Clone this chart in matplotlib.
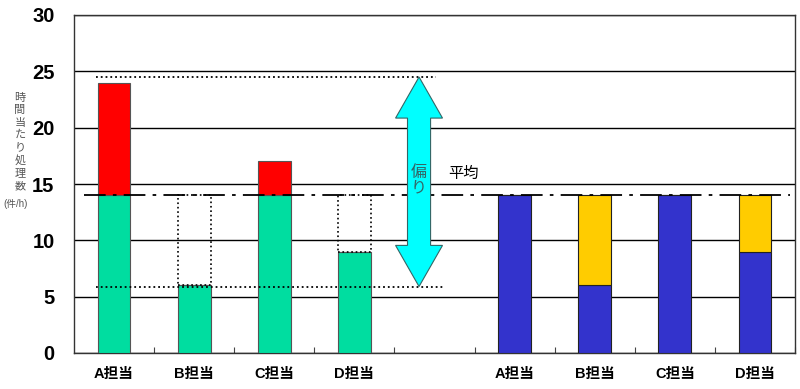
import numpy as np
import matplotlib.pyplot as plt
from matplotlib.patches import Polygon

plt.rcParams['font.family'] = ['Liberation Sans', 'Noto Sans CJK JP', 'DejaVu Sans']

# データ
labels = ['A担当', 'B担当', 'C担当', 'D担当', '', 'A担当', 'B担当', 'C担当', 'D担当']
before_base = [14, 6, 14, 9]      # 平均以下の部分（緑）
before_over = [10, 0, 3, 0]       # 平均を超える部分（赤）
after_base = [14, 6, 14, 9]       # 青
after_add = [0, 8, 0, 5]          # 黄
average = 14
spread_max = 24.5
spread_min = 5.9

green = '#00DDA0'
red = '#FF0000'
blue = '#3333CC'
yellow = '#FFCC00'
cyan = '#00FFFF'

fig = plt.figure(figsize=(8, 3.89), dpi=100)
ax = fig.add_axes([74/800, 1-353/389, 721/800, 338/389])

x = np.arange(len(labels))
xb = x[:4]
xa = x[5:]
w = 0.41

# 偏りあり
ax.bar(xb, before_base, width=w, color=green, edgecolor='#555555', linewidth=0.8, zorder=3)
ax.bar(xb, before_over, width=w, bottom=before_base, color=red, edgecolor='#555555', linewidth=0.8, zorder=3)
gap = [average - b for b in before_base]
for xi, b, g in zip(xb, before_base, gap):
    if g > 0:
        ax.bar(xi, g, width=w, bottom=b, fill=False, edgecolor='black', linestyle=':', linewidth=1.2, zorder=3)

# 平準化後
ax.bar(xa, after_base, width=w, color=blue, edgecolor='#222222', linewidth=0.8, zorder=3)
ax.bar(xa, after_add, width=w, bottom=after_base, color=yellow, edgecolor='#222222', linewidth=0.8, zorder=3)

# 平均線
ax.plot([-0.375, 8.44], [average, average], color='black', linewidth=1.3,
        dashes=(12, 4, 2, 4), zorder=4)
# 最大・最小の点線
ax.plot([-0.225, 4.02], [spread_max, spread_max], color='black', linestyle=':', linewidth=1.3, zorder=4)
ax.plot([-0.225, 4.1], [spread_min, spread_min], color='black', linestyle=':', linewidth=1.3, zorder=4)

# 両矢印
cx = 3.807
sw = 0.144
hw = 0.293
hl = 3.65
pts = [(cx, spread_max), (cx + hw, spread_max - hl), (cx + sw, spread_max - hl),
       (cx + sw, spread_min + hl), (cx + hw, spread_min + hl), (cx, spread_min),
       (cx - hw, spread_min + hl), (cx - sw, spread_min + hl), (cx - sw, spread_max - hl),
       (cx - hw, spread_max - hl)]
ax.add_patch(Polygon(pts, closed=True, facecolor=cyan, edgecolor='#336666', linewidth=0.8, zorder=5))
ax.text(cx, 15.3, '偏\nり', ha='center', va='center', fontsize=11.5, color='#336666',
        linespacing=1.05, zorder=6)
ax.text(4.36, 15.9, '平均', ha='center', va='center', fontsize=11, color='black')

ax.set_xlim(-0.5, 8.5)
ax.set_ylim(0, 30)
ax.set_yticks(range(0, 31, 5))
ax.yaxis.grid(True, color='black', linewidth=1.0)
ax.set_axisbelow(True)
ax.tick_params(axis='y', length=0, pad=14, labelsize=14.5)
for t in ax.get_yticklabels():
    t.set_fontweight('bold')

ax.set_xticks(x + 0.5)
ax.set_xticklabels([])
ax.tick_params(axis='x', which='major', direction='in', length=4, color='#444444')
ax.set_xticks(x, minor=True)
ax.set_xticklabels(labels, minor=True, fontsize=10.5, fontweight='bold')
ax.tick_params(axis='x', which='minor', length=0, pad=10)

for s in ax.spines.values():
    s.set_color('#333333')
    s.set_linewidth(1.0)

# 縦書きの軸ラベル
fig.text(20/800, 1-142/389, '\n'.join('時間当たり処理数'), ha='center', va='center',
         fontsize=8, color='#555555', linespacing=1.3)
fig.text(16/800, 1-204/389, '(件/h)', ha='center', va='center',
         fontsize=7, color='#555555')

fig.savefig('out.png', dpi=100)
